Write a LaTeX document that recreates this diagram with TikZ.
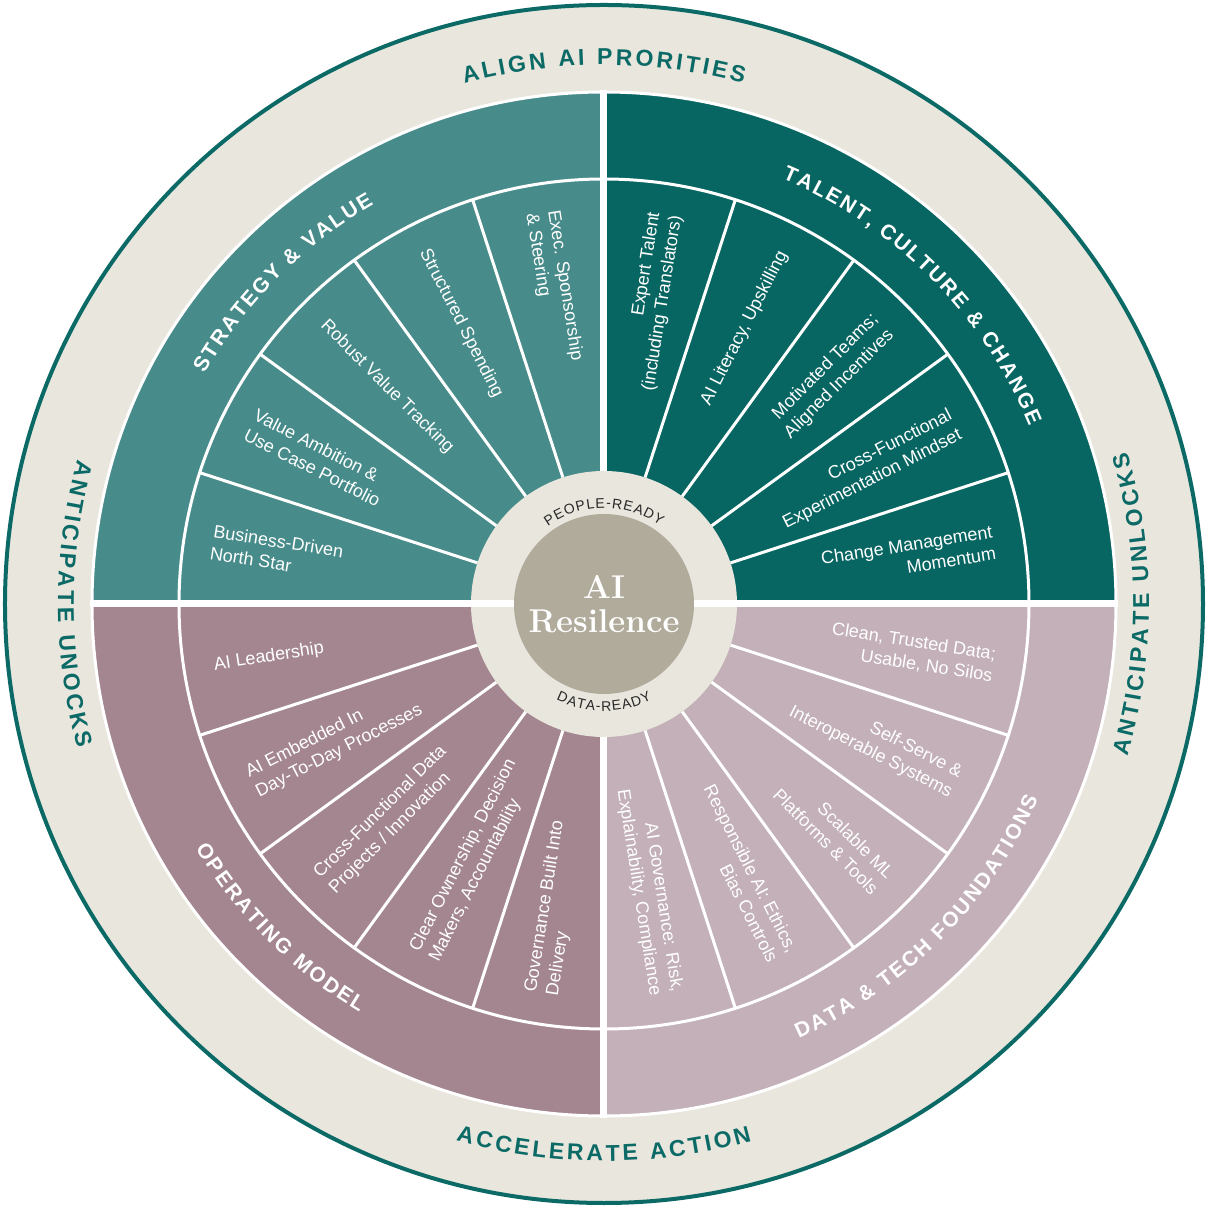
\documentclass[tikz,border=0pt]{standalone}
\usepackage{fontspec}
\setsansfont{Liberation Sans}

\definecolor{svteal}{HTML}{478C8A}
\definecolor{tcteal}{HTML}{076562}
\definecolor{ommauve}{HTML}{A3868F}
\definecolor{dtmauve}{HTML}{C3B0B8}
\definecolor{ringbeige}{HTML}{E9E6DE}
\definecolor{coregrey}{HTML}{B1AB9C}
\definecolor{rimteal}{HTML}{0B6A66}

\tikzset{
  item/.style={text=white, font=\sffamily\fontsize{18}{22}\selectfont, inner sep=0pt},
  itemL/.style={item, anchor=west, align=left},
  itemR/.style={item, anchor=east, align=right},
  divider/.style={white, line width=3pt},
  gap/.style={white, line width=7pt},
}
\newcommand{\ringsize}{\sffamily\bfseries\fontsize{23}{23}\selectfont}
\newcommand{\headsize}{\sffamily\bfseries\fontsize{21}{21}\selectfont}
\newcommand{\hubsize}{\sffamily\fontsize{14}{14}\selectfont}

% name, baseline radius, centre angle, side (1 = tops out, -1 = tops in),
% tracking, font size, font, colour, letters as char/advance (1/1000 em)
\newcommand{\arcword}[9]{%
  \xdef\arcsumv{-#5}%
  \foreach \ch/\w in {#9}{%
    \pgfmathsetmacro\tmpv{\arcsumv+\w/1000*#6+#5}\xdef\arcsumv{\tmpv}}%
  \xdef\arcposv{0}%
  \foreach \ch/\w [count=\n] in {#9}{%
    \pgfmathsetmacro\glyphw{\w/1000*#6}%
    \pgfmathsetmacro\chang{#3+(#4)*(0.5*\arcsumv-\arcposv-0.5*\glyphw)/#2*57.29578}%
    \node[text=#8, font=#7, inner sep=0pt, anchor=base, rotate=\chang-(#4)*90] (#1\n) at (\chang:#2) {\ch};
    \pgfmathsetmacro\tmpv{\arcposv+\glyphw+#5}\xdef\arcposv{\tmpv}
  }}

\begin{document}
\begin{tikzpicture}[x=1pt, y=1pt]
    \useasboundingbox (-604,-602) rectangle (603,604);

    % outer ring
    \draw[fill=ringbeige, draw=rimteal, line width=4pt] (0,0) circle (599);

    % quadrants
    \foreach \s/\c in {90/svteal, 0/tcteal, 180/ommauve, 270/dtmauve}
      \fill[\c] (0,0) -- (\s:512) arc[start angle=\s, end angle=\s+90, radius=512] -- cycle;
    \draw[white, line width=3pt] (0,0) circle (512);
    \draw[white, line width=3pt] (0,0) circle (425);
    \foreach \q in {0,90,180,270}
      \foreach \k in {18,36,54,72}
        \draw[divider] ({\q+\k}:133) -- ({\q+\k}:425);
    \draw[gap] (-514,0) -- (514,0);
    \draw[gap] (0,-514) -- (0,514);

    % hub
    \fill[ringbeige] (0,0) circle (133);
    \draw[gap] (-134,0) -- (-90,0) (90,0) -- (134,0);
    \fill[coregrey] (0,0) circle (90);
    \node[text=white, font=\bfseries\fontsize{33}{34}\selectfont, align=center] (core) at (0,0) {AI\\Resilence};
    \arcword{people}{96}{90}{1}{1}{14}{\hubsize}{black!85}{P/667,E/667,O/778,P/667,L/556,E/667,-/333,R/722,E/667,A/667,D/722,Y/667}
    \arcword{data}{107}{270}{-1}{1}{14}{\hubsize}{black!85}{D/722,A/667,T/611,A/667,-/333,R/722,E/667,A/667,D/722,Y/667}

    % strategy & value
    \foreach \a/\t [count=\i] in {171/{Business-Driven\\North Star},
        153/{Value Ambition \&\\Use Case Portfolio}, 135/{Robust Value Tracking},
        117/{Structured Spending}, 99/{Exec. Sponsorship\\\& Steering}}
      \node[itemL, rotate=\a-180] (sv\i) at (\a:397) {\t};

    % talent, culture & change
    \foreach \a/\t [count=\i] in {81/{Expert Talent\\(including Translators)},
        63/{AI Literacy, Upskilling}, 45/{Motivated Teams;\\Aligned Incentives},
        27/{Cross-Functional\\Experimentation Mindset}, 9/{Change Management\\Momentum}}
      \node[itemR, rotate=\a] (tc\i) at (\a:395) {\t};

    % operating model
    \foreach \a/\t [count=\i] in {189/{AI Leadership},
        207/{AI Embedded In\\Day-To-Day Processes}, 225/{Cross-Functional Data\\Projects / Innovation},
        243/{Clear Ownership, Decision\\Makers, Accountability}, 261/{Governance Built Into\\Delivery}}
      \node[itemL, rotate=\a-180] (om\i) at (\a:395) {\t};

    % data & tech foundations
    \foreach \a/\t [count=\i] in {351/{Clean, Trusted Data;\\Usable, No Silos},
        333/{Self-Serve \&\\Interoperable Systems}, 315/{Scalable ML\\Platforms \& Tools},
        297/{Responsible AI: Ethics,\\Bias Controls}, 279/{AI Governance: Risk,\\Explainability, Compliance}}
      \node[itemR, rotate=\a] (dt\i) at (\a:395) {\t};

    % headings
    \arcword{svhead}{461}{135}{1}{2}{21}{\headsize}{white}{S/667,T/611,R/722,A/722,T/611,E/667,G/778,Y/667,~/278,\&/722,~/278,V/667,A/722,L/611,U/722,E/667}
    \arcword{tchead}{461}{45}{1}{2}{21}{\headsize}{white}{T/611,A/722,L/611,E/667,N/722,T/611,{,}/278,~/278,C/722,U/722,L/611,T/611,U/722,R/722,E/667,~/278,\&/722,~/278,C/722,H/722,A/722,N/722,G/778,E/667}
    \arcword{omhead}{476}{225}{-1}{2}{21}{\headsize}{white}{O/778,P/667,E/667,R/722,A/722,T/611,I/278,N/722,G/778,~/278,M/833,O/778,D/722,E/667,L/611}
    \arcword{dthead}{476}{315}{-1}{2}{21}{\headsize}{white}{D/722,A/722,T/611,A/722,~/278,\&/722,~/278,T/611,E/667,C/722,H/722,~/278,F/611,O/778,U/722,N/722,D/722,A/722,T/611,I/278,O/778,N/722,S/667}

    % ring labels
    \arcword{align}{539}{90}{1}{3}{23}{\ringsize}{rimteal}{A/722,L/611,I/278,G/778,N/722,~/278,A/722,I/278,~/278,P/667,R/722,O/778,R/722,I/278,T/611,I/278,E/667,S/667}
    \arcword{unlocks}{545}{0}{-1}{3}{23}{\ringsize}{rimteal}{A/722,N/722,T/611,I/278,C/722,I/278,P/667,A/722,T/611,E/667,~/278,U/722,N/722,L/611,O/778,C/722,K/722,S/667}
    \arcword{unocks}{546}{180}{-1}{3}{23}{\ringsize}{rimteal}{A/722,N/722,T/611,I/278,C/722,I/278,P/667,A/722,T/611,E/667,~/278,U/722,N/722,O/778,C/722,K/722,S/667}
    \arcword{action}{557}{270}{-1}{3}{23}{\ringsize}{rimteal}{A/722,C/722,C/722,E/667,L/611,E/667,R/722,A/722,T/611,E/667,~/278,A/722,C/722,T/611,I/278,O/778,N/722}
\end{tikzpicture}
\end{document}
